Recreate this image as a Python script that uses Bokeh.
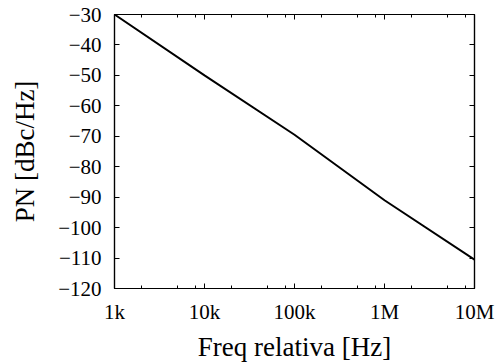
from bokeh.plotting import figure
from bokeh.models import FixedTicker, Range1d, LinearAxis, LogAxis
from bokeh.embed import file_html
from bokeh.resources import INLINE

freq = [1e3, 1e4, 1e5, 1e6, 1e7]
pn = [-30, -50, -69.5, -91, -110.5]

x_ticks = [1000, 10000, 100000, 1000000, 10000000]
x_labels = ["1k", "10k", "100k", "1M", "10M"]
y_ticks = [-120, -110, -100, -90, -80, -70, -60, -50, -40, -30]

minor = []
for d in [1e3, 1e4, 1e5, 1e6]:
    for m in (2, 5, 8):
        minor.append(d * m)

FONT = "Liberation Serif"

p = figure(width=498, height=364, x_axis_type="log",
           x_range=Range1d(1e3, 1e7), y_range=Range1d(-120, -30),
           output_backend="svg", toolbar_location=None,
           min_border_left=114, min_border_right=24,
           min_border_top=14, min_border_bottom=76)
p.frame_width = 360
p.frame_height = 274
p.xgrid.visible = False
p.ygrid.visible = False
p.outline_line_color = "black"
p.outline_line_width = 1.2
p.background_fill_color = "white"
p.border_fill_color = "white"

p.line(freq, pn, line_color="black", line_width=2)

xt = FixedTicker(ticks=x_ticks, minor_ticks=minor)
yt = FixedTicker(ticks=y_ticks, minor_ticks=[])

def style(ax, labels=True):
    ax.axis_line_color = "black"
    ax.axis_line_width = 1.2
    ax.major_tick_in = 5
    ax.major_tick_out = 0
    ax.minor_tick_in = 3
    ax.minor_tick_out = 0
    ax.major_tick_line_color = "black"
    ax.minor_tick_line_color = "black"
    ax.major_label_text_font = FONT
    ax.major_label_text_font_size = "21px"
    ax.major_label_text_color = "black"
    ax.axis_label_text_font = FONT
    ax.axis_label_text_font_size = "27px"
    ax.axis_label_text_font_style = "normal"
    ax.axis_label_text_color = "black"
    if not labels:
        ax.major_label_text_font_size = "0px"

xa = p.xaxis[0]
xa.ticker = xt
xa.major_label_overrides = {t: l for t, l in zip(x_ticks, x_labels)}
xa.axis_label = "Freq relativa [Hz]"
xa.major_label_standoff = 11
xa.axis_label_standoff = 5
style(xa)

ya = p.yaxis[0]
ya.ticker = yt
ya.axis_label = "PN [dBc/Hz]"
ya.major_label_standoff = 13
ya.axis_label_standoff = 15
style(ya)

top = LogAxis(ticker=FixedTicker(ticks=x_ticks, minor_ticks=minor))
style(top, labels=False)
top.major_label_overrides = {t: "" for t in x_ticks}
p.add_layout(top, "above")

right = LinearAxis(ticker=FixedTicker(ticks=y_ticks, minor_ticks=[]))
style(right, labels=False)
right.major_label_overrides = {t: "" for t in y_ticks}
p.add_layout(right, "right")

open("out.html", "w").write(file_html(p, INLINE))
